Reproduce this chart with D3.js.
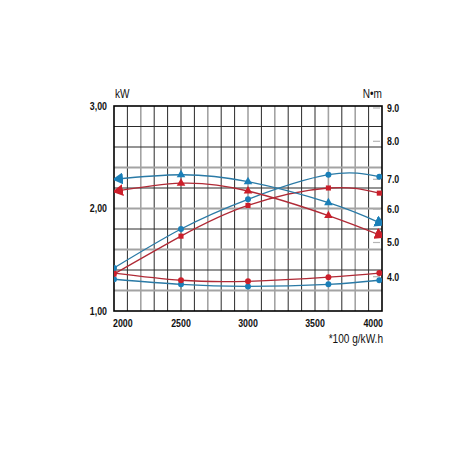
<!DOCTYPE html>
<html>
<head>
<meta charset="utf-8">
<script src="https://cdn.jsdelivr.net/npm/d3@7"></script>
<style>
  html, body { margin: 0; padding: 0; background: #fff; }
  svg { display: block; }
  text { font-family: "Liberation Sans", Arial, sans-serif; fill: #111; }
  .tick-lbl { font-weight: bold; font-size: 10.5px; }
  .unit { font-size: 12px; }
</style>
</head>
<body>
<div id="chart"></div>
<script>
// engine speed (rpm) of measured points
const rpm = [2000, 2500, 3000, 3600, 3980];

// power, kW (left axis)
const powerBlue = [1.42, 1.80, 2.09, 2.33, 2.31];
const powerRed = [1.36, 1.73, 2.03, 2.20, 2.15];

// torque, N·m (right axis)
const torqueBlue = [7.00, 7.12, 6.92, 6.22, 5.60];
const torqueRed = [6.59, 6.87, 6.61, 5.81, 5.23];

// fuel consumption, *100 g/kW.h (left axis)
const fuelBlue = [1.31, 1.26, 1.24, 1.26, 1.30];
const fuelRed = [1.37, 1.30, 1.29, 1.33, 1.37];

const xTicks = [2000, 2500, 3000, 3500, 4000];
const leftTicks = [1, 2, 3];
const leftTickLabels = ['1,00', '2,00', '3,00'];
const rightTicks = [4, 5, 6, 7, 8, 9];
const rightTickLabels = ['4.0', '5.0', '6.0', '7.0', '8.0', '9.0'];

const width = 452;
const height = 452;
const plot = { left: 114, right: 382, top: 106, bottom: 311 };
const narrow = 0.84; // the original uses a condensed face

const BLUE = '#1a7fb8';
const BLUE_LINE = '#2a7aa6';
const RED = '#cc1e2a';
const RED_LINE = '#b02a36';

const x = d3.scaleLinear().domain([2000, 4000]).range([plot.left, plot.right]);
const yL = d3.scaleLinear().domain([1, 3]).range([plot.bottom, plot.top]);
// the right axis of the original is not quite even, so follow its tick positions
const yR = d3.scaleLinear()
  .domain(rightTicks)
  .range([276.7, 242.5, 209.3, 179.3, 141.3, 108]);

const svg = d3.select('#chart')
  .append('svg')
  .attr('width', width)
  .attr('height', height);

const defs = svg.append('defs');
defs.append('clipPath')
  .attr('id', 'plot-clip')
  .append('rect')
  .attr('x', plot.left)
  .attr('y', plot.top - 20)
  .attr('width', plot.right - plot.left)
  .attr('height', plot.bottom - plot.top + 20);

// big arrow heads at both ends of the torque curves
const addArrow = (id, color, refX) => {
  defs.append('marker')
    .attr('id', id)
    .attr('viewBox', '0 -6 11 12')
    .attr('refX', refX)
    .attr('refY', 0)
    .attr('markerUnits', 'userSpaceOnUse')
    .attr('markerWidth', 11)
    .attr('markerHeight', 12)
    .attr('orient', 'auto-start-reverse')
    .append('path')
    .attr('d', 'M0,-6L11,0L0,6Z')
    .attr('fill', color);
};
addArrow('arrow-start-blue', BLUE, 9);
addArrow('arrow-start-red', RED, 9);
addArrow('arrow-end-blue', BLUE, 4);
addArrow('arrow-end-red', RED, 4);

// grid
const grid = svg.append('g');
const vLines = d3.range(2100, 4000, 100);
const grayV = [2200, 2700, 3000, 3200, 3600, 3800];
grid.selectAll('line.v')
  .data(vLines)
  .enter()
  .append('line')
  .attr('x1', (d) => x(d))
  .attr('x2', (d) => x(d))
  .attr('y1', plot.top)
  .attr('y2', plot.bottom)
  .attr('stroke', (d) => (grayV.includes(d) ? '#a3a3a3' : '#2a2a2a'))
  .attr('stroke-width', (d) => (grayV.includes(d) ? 1.6 : 1));

const hLines = d3.range(1.2, 2.9, 0.2).map((d) => +d.toFixed(1));
const grayH = [1.2, 1.6, 2.0, 2.4];
grid.selectAll('line.h')
  .data(hLines)
  .enter()
  .append('line')
  .attr('x1', plot.left)
  .attr('x2', plot.right)
  .attr('y1', (d) => yL(d))
  .attr('y2', (d) => yL(d))
  .attr('stroke', (d) => (grayH.includes(d) ? '#a3a3a3' : '#2a2a2a'))
  .attr('stroke-width', (d) => (grayH.includes(d) ? 1.8 : 1));

// little gray marks at the right axis ticks
grid.selectAll('line.rt')
  .data(rightTicks)
  .enter()
  .append('line')
  .attr('x1', plot.right - 9)
  .attr('x2', plot.right - 2)
  .attr('y1', (d) => yR(d))
  .attr('y2', (d) => yR(d))
  .attr('stroke', '#b5b5b5')
  .attr('stroke-width', 1.2);

// frame
svg.append('rect')
  .attr('x', plot.left)
  .attr('y', plot.top)
  .attr('width', plot.right - plot.left)
  .attr('height', plot.bottom - plot.top)
  .attr('fill', 'none')
  .attr('stroke', '#000')
  .attr('stroke-width', 1.6);

// curves
const curves = svg.append('g').attr('clip-path', 'url(#plot-clip)');
const makeLine = (yScale) => d3.line()
  .x((d, i) => x(rpm[i]))
  .y((d) => yScale(d))
  .curve(d3.curveNatural);

const series = [
  { values: fuelBlue, scale: yL, color: BLUE_LINE, dot: BLUE, shape: 'circle' },
  { values: fuelRed, scale: yL, color: RED_LINE, dot: RED, shape: 'circle' },
  { values: powerBlue, scale: yL, color: BLUE_LINE, dot: BLUE, shape: 'circle' },
  { values: powerRed, scale: yL, color: RED_LINE, dot: RED, shape: 'square' },
  { values: torqueBlue, scale: yR, color: BLUE_LINE, dot: BLUE, shape: 'triangle', arrows: 'blue' },
  { values: torqueRed, scale: yR, color: RED_LINE, dot: RED, shape: 'triangle', arrows: 'red' },
];

const symbols = {
  circle: d3.symbol().type(d3.symbolCircle).size(28),
  square: d3.symbol().type(d3.symbolSquare).size(26),
  triangle: d3.symbol().type(d3.symbolTriangle).size(32),
};

series.forEach((s) => {
  const path = curves.append('path')
    .datum(s.values)
    .attr('d', makeLine(s.scale))
    .attr('fill', 'none')
    .attr('stroke', s.color)
    .attr('stroke-width', 1.3);

  let pts = s.values.map((v, i) => ({ v, i }));
  if (s.arrows) {
    path.attr('marker-start', `url(#arrow-start-${s.arrows})`)
      .attr('marker-end', `url(#arrow-end-${s.arrows})`);
    pts = pts.slice(1, -1);
  }

  curves.selectAll(null)
    .data(pts)
    .enter()
    .append('path')
    .attr('d', symbols[s.shape])
    .attr('transform', (d) => `translate(${x(rpm[d.i])},${s.scale(d.v)})`)
    .attr('fill', s.dot);
});

// texts, squeezed horizontally to look like the condensed face
const place = (tx, ty) => `translate(${tx},${ty}) scale(${narrow},1)`;

svg.selectAll('text.xl')
  .data(xTicks)
  .enter()
  .append('text')
  .attr('class', 'tick-lbl')
  .attr('transform', (d, i) => {
    let px = x(d);
    if (i === 0) px -= 1;
    if (i === xTicks.length - 1) px += 1;
    return place(px, 327);
  })
  .attr('text-anchor', (d, i) => {
    if (i === 0) return 'start';
    if (i === xTicks.length - 1) return 'end';
    return 'middle';
  })
  .text((d) => d);

svg.selectAll('text.yl')
  .data(leftTicks)
  .enter()
  .append('text')
  .attr('class', 'tick-lbl')
  .attr('transform', (d) => place(plot.left - 7, yL(d) + 3.8))
  .attr('text-anchor', 'end')
  .text((d, i) => leftTickLabels[i]);

svg.selectAll('text.yr')
  .data(rightTicks)
  .enter()
  .append('text')
  .attr('class', 'tick-lbl')
  .attr('transform', (d) => place(plot.right + 5, yR(d) + 3.8))
  .attr('text-anchor', 'start')
  .text((d, i) => rightTickLabels[i]);

svg.append('text')
  .attr('class', 'unit')
  .attr('transform', place(plot.left + 1, 98))
  .text('kW');

svg.append('text')
  .attr('class', 'unit')
  .attr('transform', place(plot.right, 98))
  .attr('text-anchor', 'end')
  .text('N•m');

svg.append('text')
  .attr('class', 'unit')
  .attr('transform', place(plot.right + 1, 343))
  .attr('text-anchor', 'end')
  .text('*100 g/kW.h');
</script>
</body>
</html>
